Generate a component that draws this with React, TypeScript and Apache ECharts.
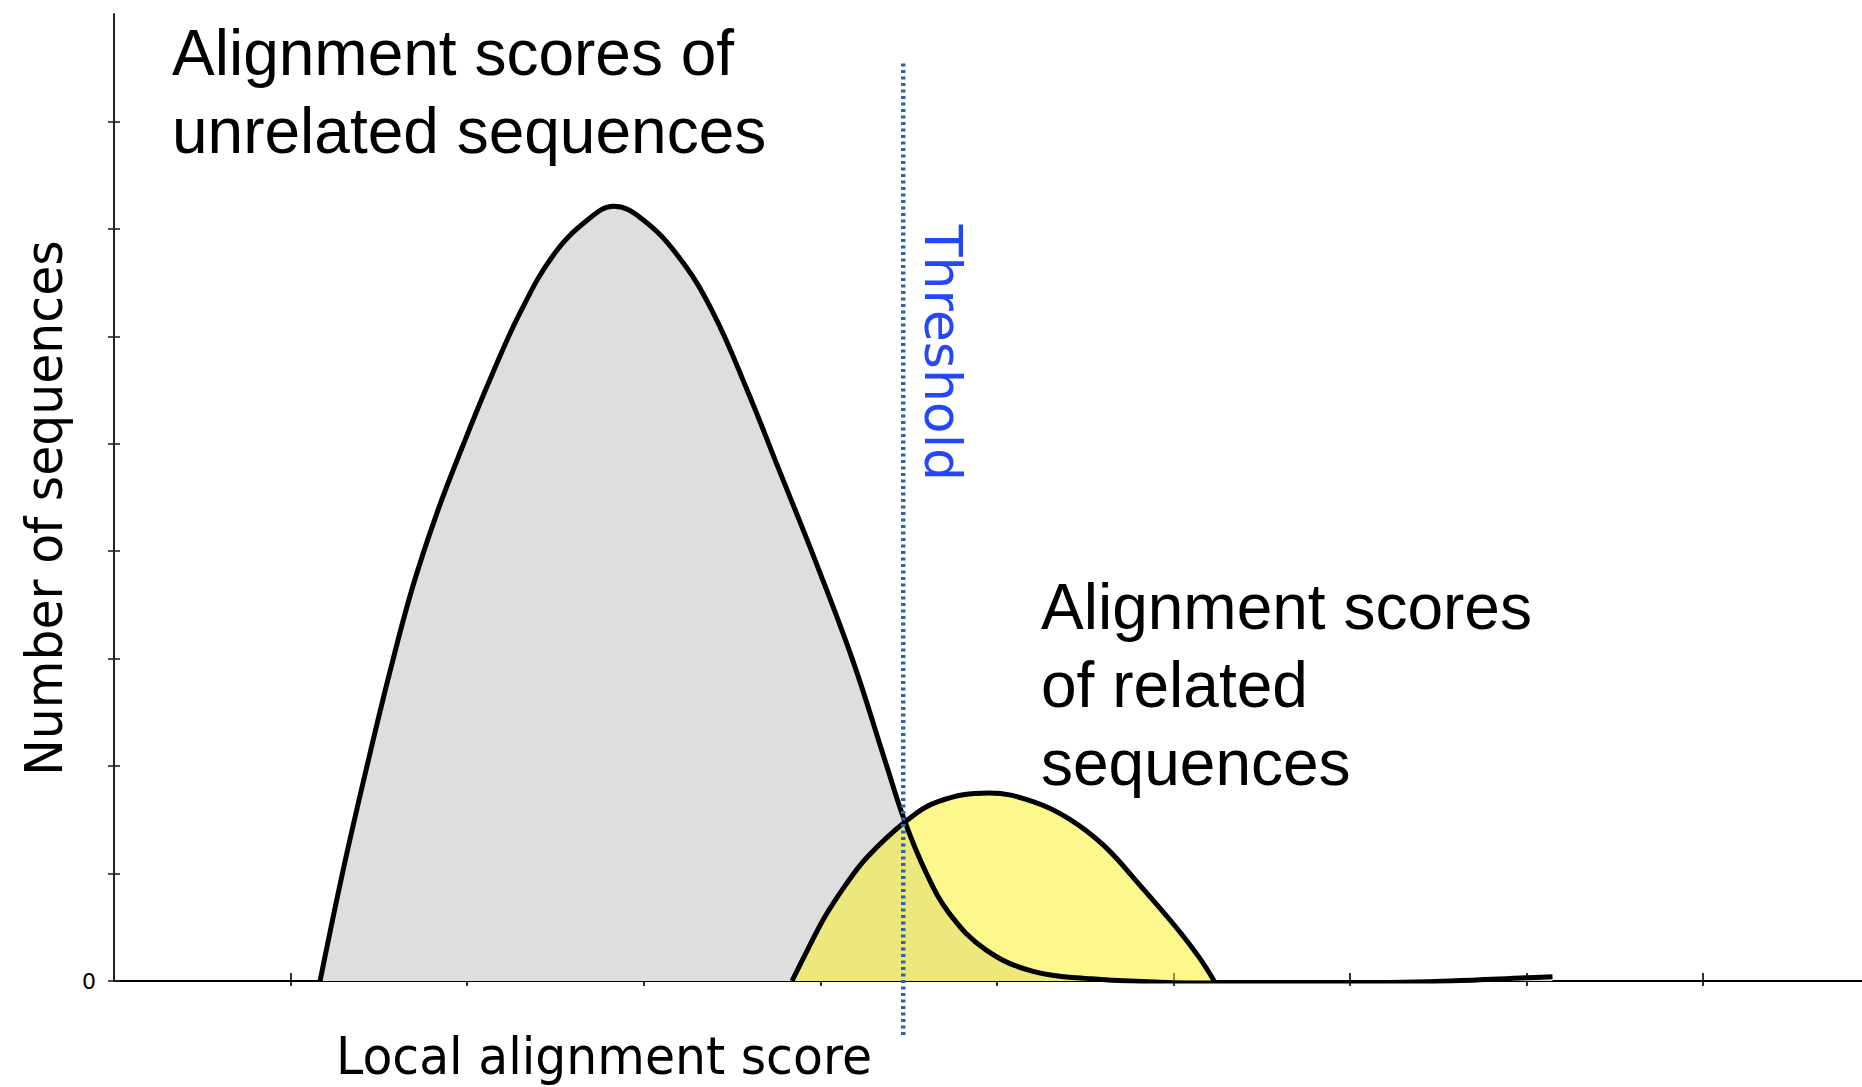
import React, { useEffect, useRef } from "react";
import * as echarts from "echarts";

// Unrelated sequences (gray distribution): score, count
const unrelatedScore = [1.167, 1.3, 1.43, 1.56, 1.69, 1.83, 1.98, 2.13, 2.3, 2.49, 2.68, 2.83, 2.985, 3.189, 3.387, 3.591, 3.761, 3.97, 4.185, 4.367, 4.48, 4.599, 4.735, 4.938, 5.205, 5.539, 5.9, 6.25, 7.0, 7.57, 8.0, 8.147];
const unrelatedCount = [0, 1.05, 1.98, 2.86, 3.66, 4.36, 5.0, 5.6, 6.22, 6.76, 7.08, 7.21, 7.1, 6.76, 6.24, 5.48, 4.78, 3.92, 2.98, 2.05, 1.48, 1.01, 0.62, 0.29, 0.09, 0.02, -0.01, -0.03, -0.02, 0.0, 0.03, 0.04];

// Related sequences (yellow distribution)
const relatedScore = [3.84, 3.928, 4.027, 4.142, 4.264, 4.48, 4.667, 4.956, 5.205, 5.409, 5.607, 5.811, 6.015, 6.146, 6.231];
const relatedCount = [0, 0.29, 0.6, 0.89, 1.15, 1.48, 1.67, 1.75, 1.67, 1.51, 1.26, 0.89, 0.5, 0.22, 0];

// Threshold line: score, from top to below the axis
const thresholdScore = [4.47, 4.47];
const thresholdCount = [8.54, -0.52];

const xTickValues = [1, 2, 3, 4, 5, 6, 7, 8, 9];
const yTickValues = [0, 1, 2, 3, 4, 5, 6, 7, 8];
const yLabelValues = [0];

const xTitle = "Local alignment score";
const yTitle = "Number of sequences";
const unrelatedLabel = ["Alignment scores of", "unrelated sequences"];
const relatedLabel = ["Alignment scores", "of related", "sequences"];
const thresholdLabel = "Threshold";

export default function App() {
  const ref = useRef<HTMLDivElement>(null);

  useEffect(() => {
    if (!ref.current) return;
    const chart = echarts.init(ref.current, null, { renderer: "svg" });
    const gray = unrelatedScore.map((x, i) => [x, unrelatedCount[i]]);
    const yellow = relatedScore.map((x, i) => [x, relatedCount[i]]);
    const threshold = thresholdScore.map((x, i) => [x, thresholdCount[i]]);
    const SMOOTH = 0.4;

    const textBase = { fill: "#000", fontFamily: "Liberation Sans, Arial, sans-serif", fontSize: 64 };
    const hiddenAxis = {
      show: false,
      axisLine: { show: false },
      axisTick: { show: false },
      axisLabel: { show: false },
      splitLine: { show: false },
    };

    chart.setOption({
      animation: false,
      backgroundColor: "#fff",
      grid: [
        { left: 114, right: 0, top: 14, bottom: 106 },
        { left: 114, right: 0, top: 14, bottom: 50 },
      ],
      xAxis: [
        {
          type: "value",
          gridIndex: 0,
          min: 0,
          max: 9.9,
          axisLine: { show: true, onZero: false, lineStyle: { color: "#000", width: 2 } },
          axisTick: { show: true, length: 5, customValues: xTickValues, lineStyle: { color: "#000", width: 1.6 } },
          axisLabel: { show: false },
          splitLine: { show: false },
        },
        {
          type: "value",
          gridIndex: 0,
          min: 0,
          max: 9.9,
          position: "bottom",
          axisLine: { show: false },
          axisTick: { show: true, inside: true, length: 8, customValues: xTickValues, lineStyle: { color: "#000", width: 1.6 } },
          axisLabel: { show: false },
          splitLine: { show: false },
        },
        { type: "value", gridIndex: 1, min: 0, max: 9.9, ...hiddenAxis },
      ],
      yAxis: [
        {
          type: "value",
          gridIndex: 0,
          min: 0,
          max: 9,
          axisLine: { show: true, onZero: false, lineStyle: { color: "#222", width: 2 } },
          axisTick: { show: true, length: 6, customValues: yTickValues, lineStyle: { color: "#222", width: 1.6 } },
          axisLabel: {
            show: true,
            customValues: yLabelValues,
            formatter: (v: number) => String(v),
            fontSize: 22,
            color: "#000",
            margin: 18,
            fontFamily: "DejaVu Sans",
          },
          splitLine: { show: false },
        },
        {
          type: "value",
          gridIndex: 0,
          min: 0,
          max: 9,
          position: "left",
          axisLine: { show: false },
          axisTick: { show: true, inside: true, length: 6, customValues: yTickValues, lineStyle: { color: "#222", width: 1.6 } },
          axisLabel: { show: false },
          splitLine: { show: false },
        },
        { type: "value", gridIndex: 1, min: -0.5216, max: 9, ...hiddenAxis },
      ],
      series: [
        {
          type: "line",
          xAxisIndex: 0,
          yAxisIndex: 0,
          data: gray,
          smooth: SMOOTH,
          showSymbol: false,
          lineStyle: { width: 0, opacity: 0 },
          areaStyle: { color: "#dedede", opacity: 1 },
          z: 1,
          silent: true,
        },
        {
          type: "line",
          xAxisIndex: 0,
          yAxisIndex: 0,
          data: yellow,
          smooth: SMOOTH,
          showSymbol: false,
          lineStyle: { width: 0, opacity: 0 },
          areaStyle: { color: "rgba(251,242,30,0.5)", opacity: 1 },
          z: 2,
          silent: true,
        },
        {
          type: "line",
          xAxisIndex: 0,
          yAxisIndex: 0,
          data: gray,
          smooth: SMOOTH,
          showSymbol: false,
          lineStyle: { width: 5, color: "#000" },
          z: 3,
          silent: true,
        },
        {
          type: "line",
          xAxisIndex: 0,
          yAxisIndex: 0,
          data: yellow,
          smooth: SMOOTH,
          showSymbol: false,
          lineStyle: { width: 5, color: "#000" },
          z: 3,
          silent: true,
        },
        {
          type: "line",
          xAxisIndex: 2,
          yAxisIndex: 2,
          data: threshold,
          showSymbol: false,
          lineStyle: { color: "#2e64a8", width: 4.5, type: [3, 3.5], cap: "butt" },
          z: 5,
          silent: true,
        },
      ],
      graphic: [
        ...unrelatedLabel.map((t, i) => ({
          type: "text",
          x: 172,
          y: 53 + i * 78,
          style: { ...textBase, text: t, align: "left", verticalAlign: "middle" },
        })),
        ...relatedLabel.map((t, i) => ({
          type: "text",
          x: 1041,
          y: 607 + i * 78,
          style: { ...textBase, text: t, align: "left", verticalAlign: "middle" },
        })),
        {
          type: "text",
          x: 943,
          y: 353,
          rotation: -Math.PI / 2,
          style: {
            text: thresholdLabel,
            fill: "#2448f5",
            fontFamily: "DejaVu Sans, sans-serif",
            fontSize: 52,
            align: "center",
            verticalAlign: "middle",
          },
        },
        {
          type: "text",
          x: 44,
          y: 508,
          rotation: Math.PI / 2,
          scaleX: 0.94,
          style: {
            text: yTitle,
            fill: "#000",
            fontFamily: "DejaVu Sans, sans-serif",
            fontSize: 52,
            align: "center",
            verticalAlign: "middle",
          },
        },
        {
          type: "text",
          x: 604,
          y: 1056,
          scaleX: 0.94,
          style: {
            text: xTitle,
            fill: "#000",
            fontFamily: "DejaVu Sans, sans-serif",
            fontSize: 52,
            align: "center",
            verticalAlign: "middle",
          },
        },
      ],
    });
    return () => chart.dispose();
  }, []);

  return (
    <div
      ref={ref}
      style={{ position: "fixed", left: 0, top: 0, width: 1862, height: 1087, background: "#fff" }}
    />
  );
}
